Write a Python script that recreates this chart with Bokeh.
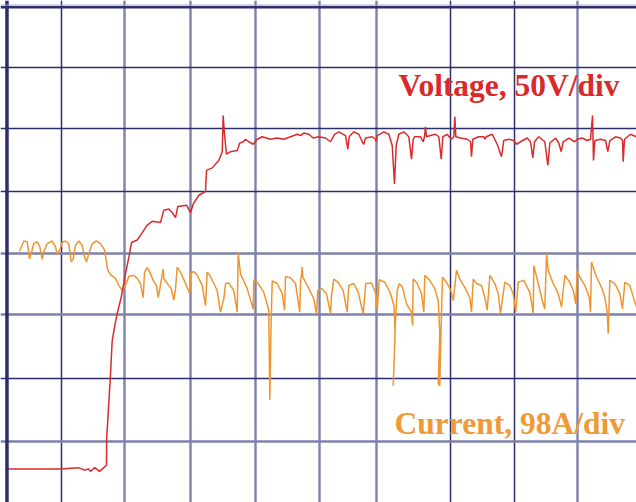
from bokeh.plotting import figure
from bokeh.models import Range1d, Grid, FixedTicker, Span, Label
from bokeh.embed import file_html
from bokeh.resources import INLINE

# Time axis in screen divisions; voltage in volts (50 V/div), current in amps (98 A/div)
time_v = [0.144, 0.999, 1.278, 1.370, 1.432, 1.463, 1.530, 1.603, 1.669, 1.711, 1.714, 1.731, 1.773, 1.799,
          1.835, 1.877, 1.939, 2.005, 2.057, 2.098, 2.187, 2.238, 2.341, 2.419, 2.547, 2.598, 2.676, 2.729,
          2.780, 2.815, 2.950, 3.012, 3.054, 3.141, 3.244, 3.260, 3.348, 3.450, 3.503, 3.518, 3.538, 3.569,
          3.631, 3.735, 3.775, 3.828, 3.864, 3.915, 3.983, 4.045, 4.122, 4.251, 4.354, 4.457, 4.560, 4.664,
          4.715, 4.766, 4.844, 4.912, 4.999, 5.102, 5.180, 5.242, 5.308, 5.412, 5.448, 5.469, 5.541, 5.618,
          5.671, 5.695, 5.722, 5.826, 5.877, 5.888, 5.903, 6.005, 6.083, 6.135, 6.171, 6.197, 6.238, 6.315,
          6.392, 6.434, 6.460, 6.481, 6.573, 6.615, 6.635, 6.651, 6.666, 6.728, 6.806, 6.857, 6.894, 6.919,
          6.987, 7.049, 7.089, 7.105, 7.120, 7.193, 7.297, 7.348, 7.363, 7.383, 7.476, 7.554, 7.569, 7.591,
          7.684, 7.761, 7.828, 7.863, 7.941, 8.018, 8.060, 8.122, 8.226, 8.277, 8.312, 8.339, 8.405, 8.498,
          8.545, 8.576, 8.664, 8.715, 8.752, 8.783, 8.870, 8.958, 9.000, 9.077, 9.155, 9.206, 9.237, 9.252,
          9.273, 9.361, 9.438, 9.474, 9.505, 9.593, 9.670, 9.701, 9.712, 9.732, 9.825, 9.918]
volts = [2, 2, 3, 1, 2, 0, 3, 0, 3, 5, 27, 41, 78, 105,
         116, 127, 140, 159, 172, 184, 186, 190, 198, 201, 200, 210, 211, 208,
         204, 213, 214, 208, 215, 222, 225, 242, 244, 250, 257, 286, 271, 255,
         257, 258, 264, 265, 267, 265, 263, 267, 269, 267, 268, 267, 269, 271,
         270, 272, 271, 268, 269, 268, 265, 271, 273, 270, 259, 269, 273, 271,
         265, 263, 268, 269, 267, 265, 270, 273, 271, 262, 231, 262, 271, 273,
         269, 251, 267, 269, 269, 265, 269, 277, 269, 270, 271, 269, 251, 269,
         271, 267, 269, 285, 269, 268, 267, 265, 253, 267, 269, 269, 267, 269,
         271, 263, 253, 266, 267, 266, 263, 265, 268, 265, 252, 265, 269, 265,
         246, 264, 268, 264, 257, 265, 268, 265, 267, 268, 266, 267, 286, 250,
         266, 267, 266, 257, 266, 269, 268, 266, 249, 267, 271, 269]

time_i = [0.364, 0.431, 0.483, 0.519, 0.545, 0.585, 0.638, 0.678, 0.715, 0.740, 0.793, 0.870, 0.921, 0.948,
          0.988, 1.025, 1.076, 1.127, 1.164, 1.196, 1.231, 1.282, 1.335, 1.371, 1.401, 1.437, 1.490, 1.556,
          1.618, 1.680, 1.711, 1.731, 1.773, 1.851, 1.902, 1.954, 2.005, 2.057, 2.134, 2.187, 2.238, 2.279,
          2.300, 2.341, 2.382, 2.434, 2.485, 2.512, 2.537, 2.589, 2.598, 2.651, 2.713, 2.753, 2.780, 2.806,
          2.857, 2.935, 3.001, 3.012, 3.063, 3.116, 3.193, 3.244, 3.270, 3.311, 3.373, 3.425, 3.476, 3.528,
          3.554, 3.605, 3.682, 3.735, 3.751, 3.786, 3.890, 3.983, 3.992, 4.045, 4.147, 4.224, 4.240, 4.258,
          4.277, 4.354, 4.432, 4.468, 4.483, 4.560, 4.638, 4.704, 4.715, 4.742, 4.751, 4.844, 4.921, 4.963,
          4.983, 5.051, 5.118, 5.180, 5.195, 5.231, 5.299, 5.376, 5.438, 5.463, 5.541, 5.609, 5.686, 5.726,
          5.815, 5.881, 5.903, 5.934, 6.021, 6.109, 6.163, 6.179, 6.160, 6.151, 6.186, 6.213, 6.244, 6.295,
          6.357, 6.434, 6.450, 6.460, 6.512, 6.589, 6.625, 6.640, 6.717, 6.795, 6.848, 6.872, 6.848, 6.872,
          6.891, 6.914, 6.976, 7.043, 7.080, 7.131, 7.182, 7.259, 7.337, 7.363, 7.390, 7.441, 7.518, 7.569,
          7.606, 7.647, 7.724, 7.777, 7.812, 7.879, 7.956, 8.009, 8.049, 8.086, 8.173, 8.266, 8.319, 8.328,
          8.396, 8.473, 8.498, 8.525, 8.551, 8.628, 8.706, 8.757, 8.808, 8.885, 8.938, 8.978, 9.000, 9.040,
          9.118, 9.186, 9.206, 9.221, 9.288, 9.376, 9.427, 9.465, 9.480, 9.505, 9.582, 9.660, 9.701, 9.737,
          9.815, 9.892, 9.918]
amps = [298, 314, 313, 286, 294, 310, 313, 305, 285, 297, 310, 314, 305, 293,
        300, 312, 314, 310, 281, 286, 307, 314, 307, 289, 281, 294, 310, 314,
        310, 300, 281, 268, 261, 255, 244, 236, 244, 258, 260, 255, 247, 225,
        265, 272, 265, 252, 244, 225, 239, 270, 255, 247, 239, 221, 239, 273,
        265, 247, 231, 263, 266, 260, 244, 212, 265, 260, 247, 236, 202, 223,
        247, 248, 236, 202, 295, 262, 239, 207, 253, 249, 233, 205, 64, 173,
        251, 247, 231, 205, 258, 256, 247, 202, 247, 273, 257, 239, 223, 199,
        236, 239, 231, 200, 228, 254, 249, 236, 202, 244, 247, 233, 199, 247,
        248, 231, 205, 253, 249, 231, 212, 173, 110, 86, 189, 236, 247, 241,
        215, 202, 181, 254, 249, 231, 202, 260, 252, 239, 220, 168, 89, 86,
        173, 257, 249, 236, 220, 268, 254, 241, 225, 202, 254, 247, 244, 225,
        205, 260, 247, 231, 200, 249, 244, 231, 202, 249, 252, 233, 200, 275,
        247, 215, 207, 294, 268, 247, 231, 210, 260, 249, 236, 215, 268, 257,
        244, 225, 202, 281, 260, 241, 225, 202, 168, 252, 247, 231, 207, 249,
        244, 218, 210]

V_PER_DIV = 50
A_PER_DIV = 98
V_OFFSET_DIV = 0.5
A_OFFSET_DIV = 1.0

grid_x_dark = [1.010, 7.043, 8.024]
grid_x_light = [1.990, 3.007, 4.023, 5.014, 5.892, 9.000]
grid_y_dark = [1.99, 5.0, 6.01, 7.0]
grid_y_light = [0.98, 3.03, 4.01]

X0, X1 = 0.0697, 9.918
Y0, Y1 = 0.0, 8.071
LEFT_EDGE = 0.170
TOP_EDGE = 7.963

p = figure(width=636, height=502, x_range=Range1d(X0, X1), y_range=Range1d(Y0, Y1),
           x_axis_type=None, y_axis_type=None, toolbar_location=None,
           output_backend="svg", min_border=0, outline_line_color=None,
           background_fill_color="white", border_fill_color="white")

DARK = "#2c2e6c"
LIGHT = "#7e81aa"
p.add_layout(Grid(dimension=0, ticker=FixedTicker(ticks=grid_x_light), grid_line_color=LIGHT, grid_line_width=2.4))
p.add_layout(Grid(dimension=0, ticker=FixedTicker(ticks=grid_x_dark), grid_line_color=DARK, grid_line_width=1.5))
p.add_layout(Grid(dimension=1, ticker=FixedTicker(ticks=grid_y_light), grid_line_color=LIGHT, grid_line_width=2.4))
p.add_layout(Grid(dimension=1, ticker=FixedTicker(ticks=grid_y_dark), grid_line_color=DARK, grid_line_width=1.5))

p.add_layout(Span(location=LEFT_EDGE, dimension="height", line_color=DARK, line_width=3.5))
p.add_layout(Span(location=TOP_EDGE, dimension="width", line_color=DARK, line_width=2.5))
p.add_layout(Span(location=TOP_EDGE + 0.035, dimension="width", line_color="#a4a6c8", line_width=1))

cur_y = [a / A_PER_DIV + A_OFFSET_DIV for a in amps]
vol_y = [v / V_PER_DIV + V_OFFSET_DIV for v in volts]

p.line(time_i, cur_y, line_color="#ef9530", line_width=1.5)
p.line(time_v, vol_y, line_color="#da2a2c", line_width=1.5)

p.add_layout(Label(x=6.233, y=6.70, text="Voltage, 50V/div", text_font="Liberation Serif",
                   text_font_style="bold", text_font_size="31.5px", text_color="#d82a2c",
                   text_baseline="alphabetic"))
p.add_layout(Label(x=6.171, y=1.276, text="Current, 98A/div", text_font="Liberation Serif",
                   text_font_style="bold", text_font_size="31.5px", text_color="#ef9a36",
                   text_baseline="alphabetic"))

open("out.html", "w").write(file_html(p, INLINE))
